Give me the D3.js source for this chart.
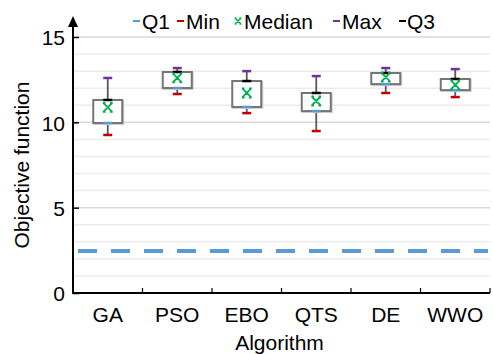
<!DOCTYPE html>
<html>
<head>
<meta charset="utf-8">
<script src="https://cdn.jsdelivr.net/npm/d3@7"></script>
<style>
  body { margin: 0; background: #fff; }
  text { font-family: "Liberation Sans", Arial, sans-serif; fill: #000; }
</style>
</head>
<body>
<script>
const algorithms = ['GA', 'PSO', 'EBO', 'QTS', 'DE', 'WWO']
const minVals = [9.26, 11.66, 10.54, 9.49, 11.72, 11.48]
const q1Vals = [9.96, 12.01, 10.9, 10.66, 12.24, 11.89]
const medianVals = [10.88, 12.6, 11.72, 11.25, 12.65, 12.19]
const q3Vals = [11.31, 12.95, 12.42, 11.72, 12.89, 12.54]
const maxVals = [12.6, 13.18, 13.0, 12.71, 13.18, 13.12]
const referenceValue = 2.46
const yTicks = [0, 5, 10, 15]
const gridValues = d3.range(1, 16)

const width = 493
const height = 354
const margin = { top: 37, right: 3, bottom: 61, left: 73 }
const fontSize = 21

const svg = d3.select('body').append('svg')
  .attr('width', width)
  .attr('height', height)

const x = d3.scaleBand()
  .domain(algorithms)
  .range([margin.left, width - margin.right])

const y = d3.scaleLinear()
  .domain([0, 15])
  .range([height - margin.bottom, margin.top])

// grid
svg.append('g')
  .selectAll('line')
  .data(gridValues)
  .join('line')
  .attr('x1', margin.left)
  .attr('x2', width - margin.right)
  .attr('y1', d => y(d))
  .attr('y2', d => y(d))
  .attr('stroke', d => d % 5 === 0 ? '#d9d9d9' : '#ececec')
  .attr('stroke-width', 1.5)

// reference dashed line
svg.append('line')
  .attr('x1', margin.left + 5)
  .attr('x2', width - margin.right - 2)
  .attr('y1', y(referenceValue))
  .attr('y2', y(referenceValue))
  .attr('stroke', '#5b9bd5')
  .attr('stroke-width', 4)
  .attr('stroke-dasharray', '19 14')

// axes
const yAxis = svg.append('g')
  .attr('transform', `translate(${margin.left},0)`)
  .call(d3.axisRight(y).tickValues(yTicks).tickSize(6).tickFormat(''))
yAxis.select('.domain').remove()
yAxis.selectAll('line').attr('stroke', '#000').attr('stroke-width', 1.5)

svg.append('g')
  .selectAll('text')
  .data(yTicks)
  .join('text')
  .attr('x', margin.left - 8)
  .attr('y', d => y(d) + 1)
  .attr('dy', '0.35em')
  .attr('text-anchor', 'end')
  .attr('font-size', fontSize)
  .text(d => d)

svg.append('line')
  .attr('x1', margin.left)
  .attr('x2', margin.left)
  .attr('y1', y(0) + 1)
  .attr('y2', 24)
  .attr('stroke', '#000')
  .attr('stroke-width', 2)
svg.append('path')
  .attr('d', `M${margin.left - 5},27 L${margin.left},16 L${margin.left + 5},27 Z`)
  .attr('fill', '#000')

const boundaries = algorithms.map(a => x(a) + x.bandwidth())
svg.append('g')
  .selectAll('line')
  .data(boundaries)
  .join('line')
  .attr('x1', d => d)
  .attr('x2', d => d)
  .attr('y1', y(0))
  .attr('y2', y(0) - 5)
  .attr('stroke', '#000')
  .attr('stroke-width', 1.2)

svg.append('line')
  .attr('x1', margin.left)
  .attr('x2', width - margin.right)
  .attr('y1', y(0))
  .attr('y2', y(0))
  .attr('stroke', '#000')
  .attr('stroke-width', 2)

svg.append('g')
  .selectAll('text')
  .data(algorithms)
  .join('text')
  .attr('x', d => x(d) + x.bandwidth() / 2)
  .attr('y', y(0) + 29)
  .attr('text-anchor', 'middle')
  .attr('font-size', fontSize)
  .text(d => d)

svg.append('text')
  .attr('x', x('QTS') - 2)
  .attr('y', 350)
  .attr('text-anchor', 'middle')
  .attr('font-size', fontSize)
  .text('Algorithm')

svg.append('text')
  .attr('transform', `translate(29,${(y(0) + y(15)) / 2}) rotate(-90)`)
  .attr('text-anchor', 'middle')
  .attr('font-size', fontSize)
  .text('Objective function')

// boxes
const boxW = 29
const capW = 9
const boxes = svg.append('g')
  .selectAll('g')
  .data(algorithms)
  .join('g')
  .attr('transform', d => `translate(${x(d) + x.bandwidth() / 2},0)`)

boxes.append('line')
  .attr('y1', (d, i) => y(maxVals[i]))
  .attr('y2', (d, i) => y(minVals[i]))
  .attr('stroke', '#595959')
  .attr('stroke-width', 1.8)

boxes.append('rect')
  .attr('x', -boxW / 2 + 1)
  .attr('y', (d, i) => y(q3Vals[i]) + 1)
  .attr('width', boxW)
  .attr('height', (d, i) => y(q1Vals[i]) - y(q3Vals[i]))
  .attr('fill', 'none')
  .attr('stroke', '#d0d0d0')
  .attr('stroke-width', 2)

boxes.append('rect')
  .attr('x', -boxW / 2)
  .attr('y', (d, i) => y(q3Vals[i]))
  .attr('width', boxW)
  .attr('height', (d, i) => y(q1Vals[i]) - y(q3Vals[i]))
  .attr('fill', '#fff')
  .attr('stroke', '#757575')
  .attr('stroke-width', 2)

const caps = [
  { vals: maxVals, color: '#7030a0' },
  { vals: minVals, color: '#c00000' },
  { vals: q3Vals, color: '#000' },
  { vals: q1Vals, color: '#5b9bd5' }
]
caps.forEach(c => {
  boxes.append('line')
    .attr('x1', -capW / 2)
    .attr('x2', capW / 2)
    .attr('y1', (d, i) => y(c.vals[i]))
    .attr('y2', (d, i) => y(c.vals[i]))
    .attr('stroke', c.color)
    .attr('stroke-width', 2.5)
})

const star = s => `M${-s},${-s}L${s},${s}M${-s},${s}L${s},${-s}` +
  `M${-s * 1.1},${-s}L${-s * 0.5},${-s}M${s * 0.5},${-s}L${s * 1.1},${-s}` +
  `M${-s * 1.1},${s}L${-s * 0.5},${s}M${s * 0.5},${s}L${s * 1.1},${s}`
boxes.append('path')
  .attr('transform', (d, i) => `translate(0,${y(medianVals[i])})`)
  .attr('d', star(4.5))
  .attr('fill', 'none')
  .attr('stroke', '#00b050')
  .attr('stroke-width', 1.8)

// legend
const legendY = 21
const legend = svg.append('g').attr('font-size', fontSize)
const legendItems = [
  { label: 'Q1', color: '#5b9bd5', x: 133, tx: 142, type: 'dash' },
  { label: 'Min', color: '#c00000', x: 177, tx: 186, type: 'dash' },
  { label: 'Median', color: '#00b050', x: 238, tx: 244, type: 'star' },
  { label: 'Max', color: '#7030a0', x: 333, tx: 342, type: 'dash' },
  { label: 'Q3', color: '#000', x: 399, tx: 407, type: 'dash' }
]
legendItems.forEach(item => {
  if (item.type === 'dash') {
    legend.append('line')
      .attr('x1', item.x)
      .attr('x2', item.x + 7)
      .attr('y1', legendY)
      .attr('y2', legendY)
      .attr('stroke', item.color)
      .attr('stroke-width', 2)
  } else {
    legend.append('path')
      .attr('transform', `translate(${item.x},${legendY})`)
      .attr('d', star(3))
      .attr('fill', 'none')
      .attr('stroke', item.color)
      .attr('stroke-width', 1.5)
  }
  legend.append('text')
    .attr('x', item.tx)
    .attr('y', legendY)
    .attr('dy', '0.36em')
    .text(item.label)
})
</script>
</body>
</html>
